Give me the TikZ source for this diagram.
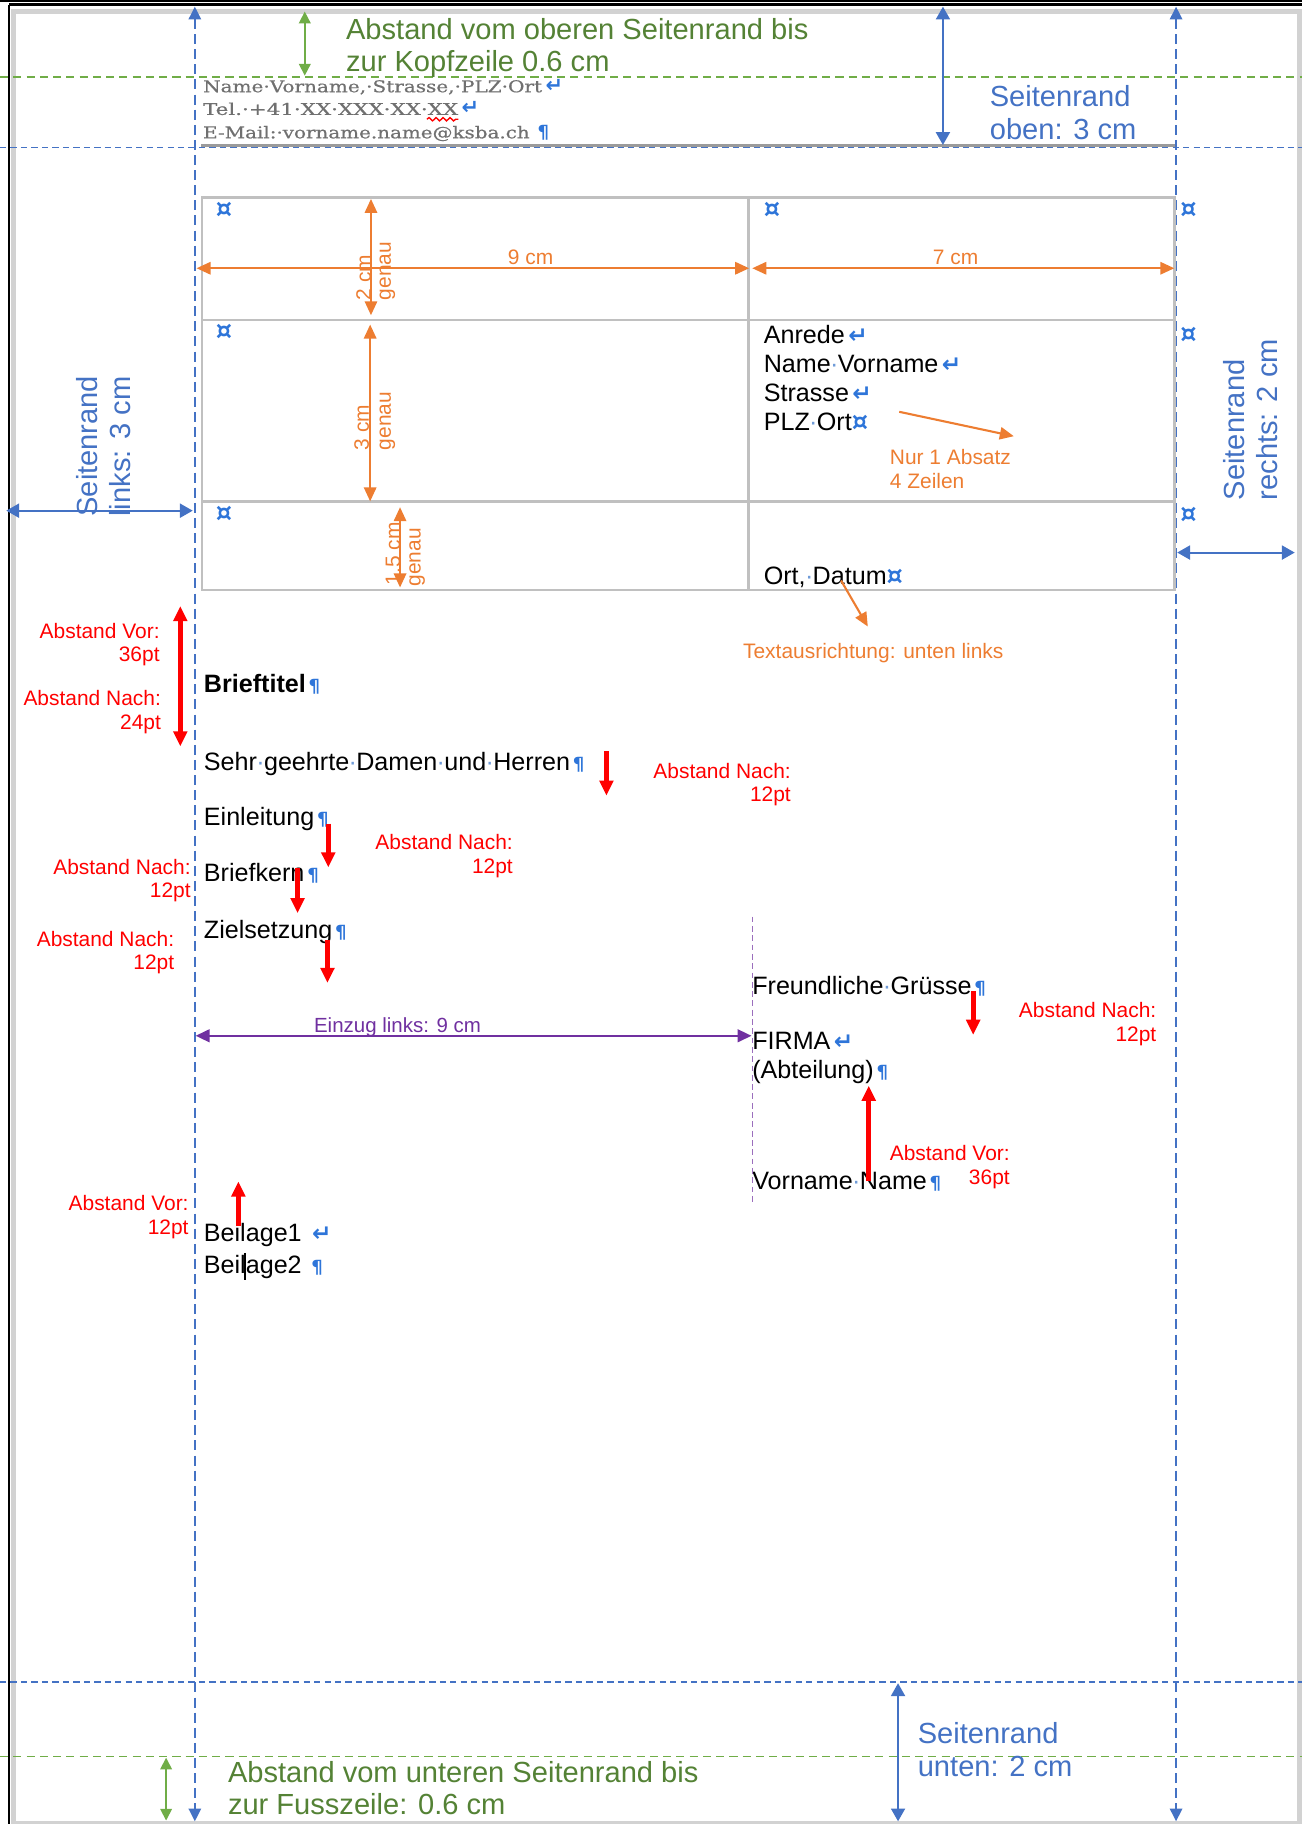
\documentclass[tikz,border=0pt]{standalone}
\usepackage{graphicx}
\usepackage{fontspec}
\setmainfont{Liberation Sans}
\newfontfamily\symfont{DejaVu Sans}
\newfontfamily\hdrfont[FakeBold=0.6]{DejaVu Serif}
\usetikzlibrary{arrows.meta,decorations.pathmorphing}
\definecolor{mblue}{HTML}{4472C4}
\definecolor{mgreen}{HTML}{70AD47}
\definecolor{tgreen}{HTML}{548235}
\definecolor{morange}{HTML}{ED7D31}
\definecolor{mpurple}{HTML}{7030A0}
\definecolor{mred}{HTML}{FF0000}
\definecolor{tblgray}{HTML}{C0C0C0}
\definecolor{hdrgray}{HTML}{707070}
\definecolor{markblue}{HTML}{2E75D9}
\definecolor{framegray}{HTML}{D2D2D2}
\definecolor{spdot}{HTML}{6F9BD8}
\newcommand{\mkpil}{{\symfont\bfseries\fontsize{7.8}{7.8}\selectfont\color{markblue}\hspace{1.2pt}¶}}
\newcommand{\mkret}{{\symfont\bfseries\fontsize{10}{10}\selectfont\color{markblue}\hspace{1.5pt}↵}}
\newcommand{\mkretsmall}{{\symfont\bfseries\fontsize{9}{9}\selectfont\color{markblue}\hspace{1.5pt}↵}}
\newcommand{\mkcel}{{\symfont\bfseries\fontsize{11}{11}\selectfont\color{markblue}¤}}
\newcommand{\mksp}{\makebox[0.28em][c]{\color{spdot}·}}
\begin{document}
\begin{tikzpicture}[x=0.5pt,y=-0.5pt,
 every node/.style={inner sep=0pt,outer sep=0pt},
 bodytxt/.style={anchor=base west,font=\fontsize{10.8}{13}\selectfont},
 hdrtxt/.style={anchor=base west,text=hdrgray,font=\hdrfont\fontsize{7}{8}\selectfont},
 redtxt/.style={anchor=base east,text=mred,font=\fontsize{9}{10}\selectfont},
 orgtxt/.style={anchor=base west,text=morange,font=\fontsize{9}{10}\selectfont},
 purtxt/.style={anchor=base west,text=mpurple,font=\fontsize{8.8}{10}\selectfont},
 gtxt/.style={anchor=base west,text=tgreen,font=\fontsize{12.5}{14}\selectfont},
 btxt/.style={anchor=base west,text=mblue,font=\fontsize{12.5}{14}\selectfont},
 rotlbl/.style={rotate=90,anchor=base west},
 cellmark/.style={anchor=center,font=\symfont\bfseries\fontsize{11}{11}\selectfont,text=markblue},
 bluearr/.style={draw=mblue,line width=0.9pt,{Triangle[length=5.5pt,width=6pt]}-{Triangle[length=5.5pt,width=6pt]}},
 greenarr/.style={draw=mgreen,line width=0.7pt,{Triangle[length=5pt,width=5pt]}-{Triangle[length=5pt,width=5pt]}},
 orgarrtwo/.style={draw=morange,line width=0.9pt,{Triangle[length=6pt,width=5.3pt]}-{Triangle[length=6pt,width=5.3pt]}},
 orgarr/.style={draw=morange,line width=0.9pt,-{Triangle[length=6pt,width=5.3pt]}},
 purarr/.style={draw=mpurple,line width=0.9pt,{Triangle[length=6pt,width=5.5pt]}-{Triangle[length=6pt,width=5.5pt]}},
 redarr/.style={draw=mred,line width=2pt,-{Triangle[length=6.5pt,width=5.8pt]}},
 marginline/.style={draw=mblue,line width=0.9pt,dash pattern=on 4.3pt off 2.2pt,{Triangle[length=5.5pt,width=5.3pt]}-{Triangle[length=5.5pt,width=5.3pt]}},
 gguide/.style={draw=mgreen,line width=0.6pt,dash pattern=on 3.5pt off 2.2pt},
 bguide/.style={draw=mblue,line width=0.6pt,dash pattern=on 2.7pt off 1.8pt},
 pguide/.style={draw=mpurple!70,line width=0.5pt,dash pattern=on 2.5pt off 1.5pt},
 tbl/.style={draw=tblgray,line width=1.1pt},
]
\useasboundingbox (0,0) rectangle (1119,1568);
% page frame
\draw[black,line width=0.8pt] (0,1.2) -- (1119,1.2);
\draw[black,line width=1pt] (8,4) -- (1119,4);
\draw[black,line width=1pt] (8,4) -- (8,1568);
\draw[framegray,line width=2pt] (11.6,1568) -- (11.6,9.8) -- (1117,9.8) -- (1117,1568);
\draw[framegray,line width=1.6pt] (11.6,1566.6) -- (1117,1566.6);
% horizontal guides
\draw[gguide] (0,66.3) -- (1119,66.3);
\draw[hdrgray!70,line width=1pt] (173,125.2) -- (1011,125.2);
\draw[bguide] (0,126.8) -- (1119,126.8);
\draw[bguide] (0,1446) -- (1119,1446);
\draw[gguide] (0,1510) -- (1119,1510);
% margin verticals
\coordinate (lmT) at (167.5,5.7); \coordinate (lmB) at (167.5,1565.7);
\coordinate (rmT) at (1011,5.7); \coordinate (rmB) at (1011,1565.7);
\draw[marginline] (lmT) -- (lmB);
\draw[marginline] (rmT) -- (rmB);
% table
\draw[tbl] (173.6,170) rectangle (1009.5,507);
\draw[tbl] (643.5,170) -- (643.5,507);
\draw[tbl] (173.6,275) -- (1009.5,275);
\draw[tbl] (173.6,431) -- (1009.5,431);
\node[cellmark] (c11) at (192.5,180.5) {¤};
\node[cellmark] (c21) at (192.5,285.5) {¤};
\node[cellmark] (c31) at (192.5,442) {¤};
\node[cellmark] (c12) at (663.7,180.5) {¤};
\node[cellmark] (ce1) at (1021.6,180.5) {¤};
\node[cellmark] (ce2) at (1021.6,288) {¤};
\node[cellmark] (ce3) at (1021.6,443) {¤};
% header
\node[hdrtxt] (hdr1) at (174.6,79.3) {\resizebox{145.7pt}{\height}{Name·Vorname,·Strasse,·PLZ·Ort}\mkretsmall};
\node[hdrtxt] (hdr2) at (174.6,98.8) {\resizebox{109.6pt}{\height}{Tel.·+41·XX·XXX·XX·XX}\mkretsmall};
\node[hdrtxt] (hdr3) at (174.6,118.9) {\resizebox{140.4pt}{\height}{E-Mail:·vorname.name@ksba.ch}\ \mkpil};
\coordinate (wv1) at (367,102.5); \coordinate (wv2) at (394,102.5);
\draw[mred,line width=0.6pt,decorate,decoration={snake,amplitude=0.7pt,segment length=3pt}] (wv1) -- (wv2);
% top annotations
\node[gtxt] (gtop1) at (297.5,33.8) {Abstand vom oberen Seitenrand bis};
\node[gtxt] (gtop2) at (297.5,61.8) {zur Kopfzeile 0.6 cm};
\coordinate (gaT) at (262,10); \coordinate (gaB) at (262,65);
\draw[greenarr] (gaT) -- (gaB);
\node[btxt] (btop1) at (850.9,91.7) {Seitenrand};
\node[btxt] (btop2) at (850.9,119.7) {oben: 3 cm};
\coordinate (baT) at (810.6,5.7); \coordinate (baB) at (810.6,124.6);
\draw[bluearr] (baT) -- (baB);
% left / right margin labels
\node[btxt,rotlbl] (lrot1) at (83.7,444) {Seitenrand};
\node[btxt,rotlbl] (lrot2) at (112.2,444) {links: 3 cm};
\coordinate (laL) at (5.4,439); \coordinate (laR) at (165.7,439);
\draw[bluearr] (laL) -- (laR);
\node[btxt,rotlbl] (rrot1) at (1070,430) {Seitenrand};
\node[btxt,rotlbl] (rrot2) at (1098.5,430) {rechts: 2 cm};
\coordinate (raL) at (1012,475); \coordinate (raR) at (1113,475);
\draw[bluearr] (raL) -- (raR);
% cell text
\node[bodytxt] (anrede) at (656.6,295) {Anrede\mkret};
\node[bodytxt] (namevn) at (656.6,320) {Name\mksp Vorname\mkret};
\node[bodytxt] (strasse) at (656.6,345) {Strasse\mkret};
\node[bodytxt] (plzort) at (656.6,370) {PLZ\mksp Ort\mkcel};
\node[bodytxt] (ortdatum) at (656.6,502.5) {Ort,\mksp Datum\mkcel};
% orange dimensions
\coordinate (n9L) at (169,230.6); \coordinate (n9R) at (644,230.6);
\coordinate (s7L) at (646.7,230.6); \coordinate (s7R) at (1009.5,230.6);
\draw[orgarrtwo] (n9L) -- (n9R);
\draw[orgarrtwo] (s7L) -- (s7R);
\node[orgtxt] (l9cm) at (436.6,227.8) {9 cm};
\node[orgtxt] (l7cm) at (802,227.8) {7 cm};
\coordinate (h2T) at (318.9,171); \coordinate (h2B) at (318.9,271);
\coordinate (h3T) at (318.2,279); \coordinate (h3B) at (318.2,431);
\coordinate (h15T) at (343.9,436); \coordinate (h15B) at (343.9,505);
\draw[orgarrtwo] (h2T) -- (h2B);
\draw[orgarrtwo] (h3T) -- (h3B);
\draw[orgarrtwo] (h15T) -- (h15B);
\node[orgtxt,rotlbl] (o2a) at (318.9,258) {2 cm};
\node[orgtxt,rotlbl] (o2b) at (336,258) {genau};
\node[orgtxt,rotlbl] (o3a) at (317.2,387) {3 cm};
\node[orgtxt,rotlbl] (o3b) at (336,387) {genau};
\node[orgtxt,rotlbl] (o15a) at (343.9,503) {1.5 cm};
\node[orgtxt,rotlbl] (o15b) at (361.5,504) {genau};
\coordinate (nurS) at (773,354); \coordinate (nurE) at (871.5,375);
\draw[orgarr] (nurS) -- (nurE);
\node[orgtxt] (nur1) at (765,399.7) {Nur 1 Absatz};
\node[orgtxt] (nur2) at (765,420) {4 Zeilen};
\coordinate (txS) at (723,499); \coordinate (txE) at (746,538.6);
\draw[orgarr] (txS) -- (txE);
\node[orgtxt] (textausr) at (638.8,565.7) {Textausrichtung: unten links};
% body text
\node[bodytxt,font=\bfseries\fontsize{10.8}{13}\selectfont] (brieftitel) at (175.3,595.5) {Brieftitel\mkpil};
\node[bodytxt] (sehr) at (175.3,662) {Sehr\mksp geehrte\mksp Damen\mksp und\mksp Herren\mkpil};
\node[bodytxt] (einleitung) at (175.3,710) {Einleitung\mkpil};
\node[bodytxt] (briefkern) at (175.3,758) {Briefkern\mkpil};
\node[bodytxt] (zielsetzung) at (175.3,806.5) {Zielsetzung\mkpil};
\node[bodytxt] (gruss) at (646.7,854.5) {Freundliche\mksp Grüsse\mkpil};
\node[bodytxt] (firma) at (646.7,902.4) {FIRMA\mkret};
\node[bodytxt] (abteilung) at (646.7,927.4) {(Abteilung)\mkpil};
\node[bodytxt] (unterschrift) at (646.7,1022.3) {Vorname\mksp Name\mkpil};
\node[bodytxt] (beilage1) at (175.3,1067.5) {Beilage1\hspace{3pt}\mkret};
\node[bodytxt] (beilage2) at (175.3,1094.5) {Beilage2\hspace{3pt}\mkpil};
\coordinate (curT) at (210.7,1077); \coordinate (curB) at (210.7,1100);
\draw[black,line width=0.6pt] (curT) -- (curB);
% Einzug
\coordinate (pvT) at (646.7,788); \coordinate (pvB) at (646.7,1034);
\draw[pguide] (pvT) -- (pvB);
\coordinate (ezL) at (168.2,890.4); \coordinate (ezR) at (646,890.4);
\draw[purarr] (ezL) -- (ezR);
\node[purtxt] (einzug) at (270,887.3) {Einzug links: 9 cm};
% red spacing arrows
\coordinate (rA) at (155,582.5); \coordinate (rAT) at (155,521); \coordinate (rAB) at (155,641.7);
\draw[redarr] (rA) -- (rAT);
\draw[redarr] (rA) -- (rAB);
\coordinate (rBs) at (521.3,646); \coordinate (rBe) at (521.3,684);
\draw[redarr] (rBs) -- (rBe);
\coordinate (rCs) at (282.2,708); \coordinate (rCe) at (282.2,745.7);
\draw[redarr] (rCs) -- (rCe);
\coordinate (rDs) at (255.8,746); \coordinate (rDe) at (255.8,785);
\draw[redarr] (rDs) -- (rDe);
\coordinate (rEs) at (281.5,808); \coordinate (rEe) at (281.5,845);
\draw[redarr] (rEs) -- (rEe);
\coordinate (rFs) at (836.6,852); \coordinate (rFe) at (836.6,889.6);
\draw[redarr] (rFs) -- (rFe);
\coordinate (rGs) at (746.8,1015.6); \coordinate (rGe) at (746.8,933.4);
\draw[redarr] (rGs) -- (rGe);
\coordinate (rHs) at (204.9,1054); \coordinate (rHe) at (204.9,1015.6);
\draw[redarr] (rHs) -- (rHe);
% red labels
\node[redtxt] (rl1a) at (137.2,548.6) {Abstand Vor:};
\node[redtxt] (rl1b) at (137.2,568.7) {36pt};
\node[redtxt] (rl2a) at (138.3,606.8) {Abstand Nach:};
\node[redtxt] (rl2b) at (138.3,627.4) {24pt};
\node[redtxt] (rl3a) at (679.8,669) {Abstand Nach:};
\node[redtxt] (rl3b) at (679.8,689) {12pt};
\node[redtxt] (rl4a) at (440.8,730) {Abstand Nach:};
\node[redtxt] (rl4b) at (440.8,750.6) {12pt};
\node[redtxt] (rl5a) at (163.9,752) {Abstand Nach:};
\node[redtxt] (rl5b) at (163.9,771.5) {12pt};
\node[redtxt] (rl6a) at (149.7,813.6) {Abstand Nach:};
\node[redtxt] (rl6b) at (149.7,833.7) {12pt};
\node[redtxt] (rl7a) at (994,874.4) {Abstand Nach:};
\node[redtxt] (rl7b) at (994,895) {12pt};
\node[redtxt] (rl8a) at (868,997.9) {Abstand Vor:};
\node[redtxt] (rl8b) at (868,1017.9) {36pt};
\node[redtxt] (rl9a) at (162.1,1040.5) {Abstand Vor:};
\node[redtxt] (rl9b) at (162.1,1060.9) {12pt};
% bottom annotations
\coordinate (bbT) at (772,1447); \coordinate (bbB) at (772,1565.7);
\draw[bluearr] (bbT) -- (bbB);
\node[btxt] (bbot1) at (789,1498.4) {Seitenrand};
\node[btxt] (bbot2) at (789,1527) {unten: 2 cm};
\coordinate (gbT) at (142.8,1511); \coordinate (gbB) at (142.8,1565);
\draw[greenarr] (gbT) -- (gbB);
\node[gtxt] (gbot1) at (196,1532) {Abstand vom unteren Seitenrand bis};
\node[gtxt] (gbot2) at (196,1560) {zur Fusszeile: 0.6 cm};
\end{tikzpicture}
\end{document}
